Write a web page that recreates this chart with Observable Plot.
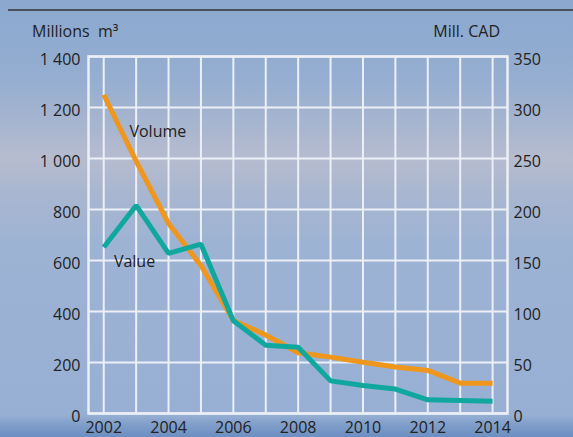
<!DOCTYPE html>
<html>
<head>
<meta charset="utf-8">
<script src="https://cdn.jsdelivr.net/npm/d3@7"></script>
<script src="https://cdn.jsdelivr.net/npm/@observablehq/plot@0.6"></script>
<style>
  html, body { margin: 0; padding: 0; }
  #wrap {
    position: relative; width: 573px; height: 437px; overflow: hidden;
    font-family: "Open Sans", sans-serif; color: #222;
    background: linear-gradient(to bottom,
      #8ba8cf 0%, #95aed1 18%, #aab6cf 30%, #b6bccf 36%, #a9b6d0 44%,
      #9db3d4 56%, #9ab1d4 80%, #96afd3 95%, #7d9cc8 97.5%, #6c8ec1 100%);
  }
  #rule { position: absolute; left: 8px; top: 9px; width: 565px; height: 2px; background: #4a505a; }
  .title { position: absolute; top: 21px; font-size: 16px; line-height: 20px; white-space: pre; }
  #tl { left: 32px; }
  #tr { right: 73px; }
  svg { position: absolute; left: 0; top: 0; }
</style>
</head>
<body>
<div id="wrap">
  <div id="rule"></div>
  <div class="title" id="tl">Millions  m³</div>
  <div class="title" id="tr">Mill. CAD</div>
</div>
<script>
const years = [2002, 2003, 2004, 2005, 2006, 2007, 2008, 2009, 2010, 2011, 2012, 2013, 2014];
const volume = [1250, 990, 745, 580, 365, 308, 238, 221, 201, 182, 169, 119, 119]; // millions m3
const value = [163, 204, 157, 166, 91, 67, 65, 32, 27.5, 24, 13.4, 12.7, 12];      // mill. CAD
const leftTicks = [0, 200, 400, 600, 800, 1000, 1200, 1400];
const rightTicks = [0, 50, 100, 150, 200, 250, 300, 350];
const xTicks = [2002, 2004, 2006, 2008, 2010, 2012, 2014];
const seriesLabels = ["Volume", "Value"];
const labelPos = [{x: 2003.67, y: 1106}, {x: 2002.95, y: 596}];

const ratio = 1400 / 350;
const volRows = years.map((y, i) => ({year: y, v: volume[i]}));
const valRows = years.map((y, i) => ({year: y, v: value[i] * ratio}));
const labRows = seriesLabels.map((t, i) => ({text: t, x: labelPos[i].x, y: labelPos[i].y}));

const grid = "#eceff5";
const chart = Plot.plot({
  width: 573, height: 437,
  marginLeft: 88, marginRight: 66, marginTop: 56, marginBottom: 24,
  x: {domain: [2001.53, 2014.46]},
  y: {domain: [0, 1400]},
  style: {background: "transparent", fontFamily: "Open Sans, sans-serif", fontSize: "16px", color: "#222", overflow: "visible"},
  marks: [
    Plot.gridX(years, {stroke: grid, strokeOpacity: 1, strokeWidth: 2}),
    Plot.gridY(leftTicks, {stroke: grid, strokeOpacity: 1, strokeWidth: 2}),
    Plot.frame({stroke: grid, strokeWidth: 2.5}),
    Plot.axisY(leftTicks, {anchor: "left", tickSize: 0, tickPadding: 8, dy: 3, label: null,
      tickFormat: d => d3.format(",")(d).replace(",", " "), fill: "#222"}),
    Plot.axisY(rightTicks.map(d => d * ratio), {anchor: "right", tickSize: 0, tickPadding: 6, dy: 3, label: null,
      tickFormat: d => String(d / ratio), fill: "#222"}),
    Plot.axisX(xTicks, {anchor: "bottom", tickSize: 0, tickPadding: 8, label: null,
      tickFormat: d => String(d), fill: "#222"}),
    Plot.line(volRows, {x: "year", y: "v", stroke: "#ef961d", strokeWidth: 5, strokeLinejoin: "miter", strokeLinecap: "butt"}),
    Plot.line(valRows, {x: "year", y: "v", stroke: "#10a89e", strokeWidth: 5, strokeLinejoin: "miter", strokeLinecap: "butt"}),
    Plot.text(labRows, {x: "x", y: "y", text: "text", fill: "#222", fontSize: 16, textAnchor: "middle", lineAnchor: "middle"})
  ]
});
document.getElementById("wrap").appendChild(chart);
</script>
</body>
</html>
